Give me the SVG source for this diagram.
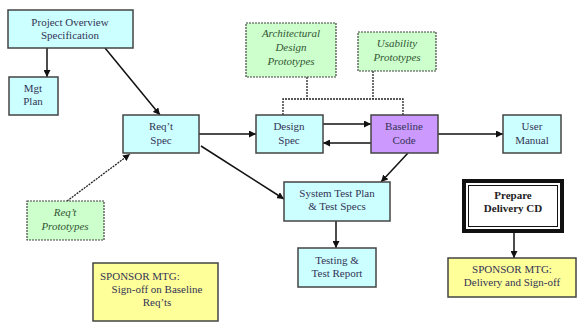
<svg xmlns="http://www.w3.org/2000/svg" width="579" height="323" viewBox="0 0 579 323">
<defs>
<marker id="ah" viewBox="0 0 10 10" refX="10" refY="5" markerWidth="7" markerHeight="7" orient="auto" markerUnits="userSpaceOnUse"><path d="M0,0 L10,5 L0,10 z" fill="#111"/></marker>
</defs>
<style>
text{font-family:"Liberation Serif","Times New Roman",serif;font-size:11px;fill:#333355;text-anchor:middle}
.cy{fill:#ccffff;stroke:#444;stroke-width:1.5}
.pu{fill:#cc99ff;stroke:#444;stroke-width:1.5}
.gr{fill:#ccffcc;stroke:#444;stroke-width:1.2;stroke-dasharray:2 1}
.ye{fill:#ffff99;stroke:#444;stroke-width:1.5}
.it{font-style:italic;fill:#335533}
.b{font-weight:bold;fill:#222}
.c{stroke:#111;stroke-width:1.5;fill:none}
.d{stroke:#222;stroke-width:1.3;fill:none;stroke-dasharray:2 1}
</style>
<rect width="579" height="323" fill="#fff"/>
<g id="connectors">
<line class="c" x1="47" y1="48" x2="47" y2="77" marker-end="url(#ah)"/>
<line class="c" x1="105" y1="48" x2="160" y2="115" marker-end="url(#ah)"/>
<line class="d" x1="67" y1="201" x2="130" y2="154" marker-end="url(#ah)"/>
<line class="c" x1="199" y1="134" x2="256" y2="134" marker-end="url(#ah)"/>
<line class="c" x1="323" y1="124" x2="371" y2="124" marker-end="url(#ah)"/>
<line class="c" x1="371" y1="143" x2="323" y2="143" marker-end="url(#ah)"/>
<line class="c" x1="438" y1="134" x2="503" y2="134" marker-end="url(#ah)"/>
<line class="c" x1="201" y1="146" x2="284" y2="199" marker-end="url(#ah)"/>
<line class="c" x1="408" y1="153" x2="381" y2="182" marker-end="url(#ah)"/>
<line class="c" x1="336" y1="221" x2="336" y2="248" marker-end="url(#ah)"/>
<line class="c" x1="514" y1="232" x2="514" y2="258" marker-end="url(#ah)"/>
<polyline class="d" points="307,77 307,99"/>
<polyline class="d" points="373,71 373,99"/>
<polyline class="d" points="283,115 283,99 403,99 403,115"/>
</g>
<g id="project-overview"><rect class="cy" x="8" y="10" width="125" height="38"/><text x="70" y="26">Project Overview</text><text x="70" y="39">Specification</text></g>
<g id="mgt-plan"><rect class="cy" x="9" y="77" width="49" height="38"/><text x="33" y="92">Mgt</text><text x="33" y="105">Plan</text></g>
<g id="reqt-spec"><rect class="cy" x="123" y="115" width="76" height="38"/><text x="161" y="130">Req’t</text><text x="161" y="144">Spec</text></g>
<g id="design-spec"><rect class="cy" x="256" y="115" width="67" height="38"/><text x="289" y="130">Design</text><text x="289" y="144">Spec</text></g>
<g id="baseline-code"><rect class="pu" x="371" y="115" width="67" height="38"/><text x="404" y="130">Baseline</text><text x="404" y="144">Code</text></g>
<g id="user-manual"><rect class="cy" x="503" y="115" width="58" height="38"/><text x="532" y="130">User</text><text x="532" y="144">Manual</text></g>
<g id="arch-prototypes"><rect class="gr" x="246" y="23" width="90" height="54"/><text class="it" x="291" y="37">Architectural</text><text class="it" x="291" y="51">Design</text><text class="it" x="291" y="65">Prototypes</text></g>
<g id="usability-prototypes"><rect class="gr" x="358" y="32" width="78" height="39"/><text class="it" x="397" y="47">Usability</text><text class="it" x="397" y="61">Prototypes</text></g>
<g id="reqt-prototypes"><rect class="gr" x="27" y="201" width="77" height="39"/><text class="it" x="65" y="216">Req’t</text><text class="it" x="65" y="230">Prototypes</text></g>
<g id="system-test-plan"><rect class="cy" x="284" y="182" width="106" height="39"/><text x="337" y="197">System Test Plan</text><text x="337" y="210">&amp; Test Specs</text></g>
<g id="testing"><rect class="cy" x="298" y="248" width="78" height="39"/><text x="337" y="264">Testing &amp;</text><text x="337" y="277">Test Report</text></g>
<g id="prepare-cd"><rect x="464" y="181" width="98" height="50" fill="#fff" stroke="#111" stroke-width="4"/><rect x="468.5" y="185.5" width="89" height="41" fill="none" stroke="#111" stroke-width="1"/><text class="b" x="513" y="199">Prepare</text><text class="b" x="513" y="212">Delivery CD</text></g>
<g id="sponsor-delivery"><rect class="ye" x="448" y="258" width="128" height="39"/><text x="512" y="273">SPONSOR MTG:</text><text x="512" y="286">Delivery and Sign-off</text></g>
<g id="sponsor-signoff"><rect class="ye" x="93" y="263" width="125" height="58"/><text x="100" y="280" style="text-anchor:start">SPONSOR MTG:</text><text x="157" y="293">Sign-off on Baseline</text><text x="157" y="306">Req’ts</text></g>
</svg>
